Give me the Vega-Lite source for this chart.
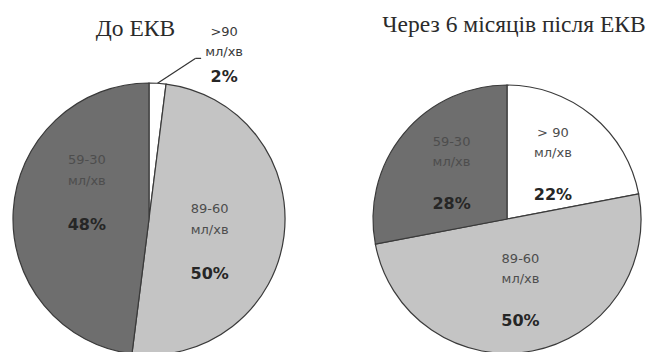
{
  "$schema": "https://vega.github.io/schema/vega-lite/v6.json",
  "background": "white",
  "padding": {"left": 10, "top": 13, "right": 0, "bottom": 0},
  "bounds": "flush",
  "spacing": 88,
  "config": {
    "view": {"stroke": null},
    "title": {"font": "Liberation Serif", "fontSize": 23.5, "fontWeight": "normal", "color": "#2b2b2b", "baseline": "alphabetic", "frame": "group"}
  },
  "datasets": {
    "before": [
      {"idx": 1, "band": "gt90", "label": ">90\nмл/хв", "share": 0.02},
      {"idx": 2, "band": "60-89", "label": "89-60\nмл/хв", "share": 0.50},
      {"idx": 3, "band": "30-59", "label": "59-30\nмл/хв", "share": 0.48}
    ],
    "after": [
      {"idx": 1, "band": "gt90", "label": "> 90\nмл/хв", "share": 0.22},
      {"idx": 2, "band": "60-89", "label": "89-60\nмл/хв", "share": 0.50},
      {"idx": 3, "band": "30-59", "label": "59-30\nмл/хв", "share": 0.28}
    ]
  },
  "hconcat": [
    {
      "width": 272,
      "height": 272,
      "title": {"text": "До ЕКВ", "offset": 0, "dy": 15, "dx": -13.5},
      "data": {"name": "before"},
      "layer": [
        {
          "mark": {"type": "arc", "radius": 136, "stroke": "#3a3a3a", "strokeWidth": 1.2},
          "encoding": {
            "theta": {"field": "share", "type": "quantitative", "stack": true},
            "order": {"field": "idx", "type": "quantitative"},
            "color": {
              "field": "band", "type": "nominal", "legend": null,
              "scale": {"domain": ["gt90", "60-89", "30-59"], "range": ["#ffffff", "#c4c4c4", "#6e6e6e"]}
            }
          }
        },
        {
          "mark": {"type": "text", "radius": 66, "thetaOffset": 0.28, "dy": -36.5, "lineBreak": "\n", "lineHeight": 21, "font": "DejaVu Sans", "fontSize": 13, "fill": "#4d4d4d"},
          "encoding": {
            "theta": {"field": "share", "type": "quantitative", "stack": true},
            "order": {"field": "idx", "type": "quantitative"},
            "text": {"condition": {"test": "datum.band === 'gt90'", "value": ""}, "field": "label", "type": "nominal"}
          }
        },
        {
          "mark": {"type": "text", "radius": 66, "thetaOffset": 0.28, "dy": 28.5, "font": "DejaVu Sans", "fontSize": 16, "fontWeight": "bold", "fill": "#262626"},
          "encoding": {
            "theta": {"field": "share", "type": "quantitative", "stack": true},
            "order": {"field": "idx", "type": "quantitative"},
            "text": {"condition": {"test": "datum.band === 'gt90'", "value": ""}, "field": "share", "type": "quantitative", "format": ".0%"}
          }
        },
        {
          "transform": [
            {"stack": "share", "groupby": [], "sort": [{"field": "idx"}], "as": ["s0", "s1"]},
            {"filter": "datum.band === 'gt90'"},
            {"calculate": "(datum.s0 + datum.s1) / 2", "as": "mid"}
          ],
          "mark": {"type": "text", "radius": 181, "thetaOffset": 0.365, "dy": -22.5, "lineBreak": "\n", "lineHeight": 20, "font": "DejaVu Sans", "fontSize": 13, "fill": "#3a3a3a"},
          "encoding": {
            "theta": {"field": "mid", "type": "quantitative", "stack": false},
            "text": {"field": "label", "type": "nominal"}
          }
        },
        {
          "transform": [
            {"stack": "share", "groupby": [], "sort": [{"field": "idx"}], "as": ["s0", "s1"]},
            {"filter": "datum.band === 'gt90'"},
            {"calculate": "(datum.s0 + datum.s1) / 2", "as": "mid"}
          ],
          "mark": {"type": "text", "radius": 181, "thetaOffset": 0.365, "dy": 22.5, "font": "DejaVu Sans", "fontSize": 16, "fontWeight": "bold", "fill": "#262626"},
          "encoding": {
            "theta": {"field": "mid", "type": "quantitative", "stack": false},
            "text": {"field": "share", "type": "quantitative", "format": ".0%"}
          }
        },
        {
          "transform": [
            {"filter": "datum.band === 'gt90'"},
            {"calculate": "sin(PI * datum.share)", "as": "lx1"},
            {"calculate": "cos(PI * datum.share)", "as": "ly1"},
            {"calculate": "1.23 * sin(PI * datum.share + 0.22)", "as": "lx2"},
            {"calculate": "1.23 * cos(PI * datum.share + 0.22)", "as": "ly2"}
          ],
          "layer": [
            {
              "mark": {"type": "rule", "stroke": "#333333", "strokeWidth": 1.2},
              "encoding": {
                "x": {"field": "lx1", "type": "quantitative", "scale": {"domain": [-1, 1], "nice": false, "zero": false}, "axis": null},
                "y": {"field": "ly1", "type": "quantitative", "scale": {"domain": [-1, 1], "nice": false, "zero": false}, "axis": null},
                "x2": {"field": "lx2"},
                "y2": {"field": "ly2"}
              }
            },
            {
              "transform": [{"calculate": "datum.lx2 + 0.04", "as": "lx3"}],
              "mark": {"type": "rule", "stroke": "#333333", "strokeWidth": 1.2},
              "encoding": {
                "x": {"field": "lx2", "type": "quantitative", "scale": {"domain": [-1, 1], "nice": false, "zero": false}, "axis": null},
                "y": {"field": "ly2", "type": "quantitative", "scale": {"domain": [-1, 1], "nice": false, "zero": false}, "axis": null},
                "x2": {"field": "lx3"}
              }
            }
          ]
        }
      ]
    },
    {
      "width": 268,
      "height": 272,
      "title": {"text": "Через 6 місяців після ЕКВ", "offset": 46, "dx": 7},
      "data": {"name": "after"},
      "layer": [
        {
          "mark": {"type": "arc", "radius": 134, "stroke": "#3a3a3a", "strokeWidth": 1.2},
          "encoding": {
            "theta": {"field": "share", "type": "quantitative", "stack": true},
            "order": {"field": "idx", "type": "quantitative"},
            "color": {
              "field": "band", "type": "nominal", "legend": null,
              "scale": {"domain": ["gt90", "60-89", "30-59"], "range": ["#ffffff", "#c4c4c4", "#6e6e6e"]}
            }
          }
        },
        {
          "mark": {"type": "text", "radius": 72, "dy": -31, "lineBreak": "\n", "lineHeight": 20, "font": "DejaVu Sans", "fontSize": 13, "fill": "#4d4d4d"},
          "encoding": {
            "theta": {"field": "share", "type": "quantitative", "stack": true},
            "order": {"field": "idx", "type": "quantitative"},
            "text": {"field": "label", "type": "nominal"}
          }
        },
        {
          "mark": {"type": "text", "radius": 72, "dy": 31, "font": "DejaVu Sans", "fontSize": 16, "fontWeight": "bold", "fill": "#262626"},
          "encoding": {
            "theta": {"field": "share", "type": "quantitative", "stack": true},
            "order": {"field": "idx", "type": "quantitative"},
            "text": {"field": "share", "type": "quantitative", "format": ".0%"}
          }
        }
      ]
    }
  ]
}
